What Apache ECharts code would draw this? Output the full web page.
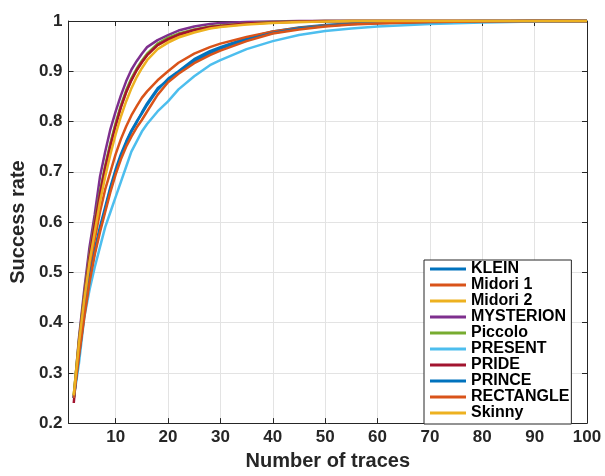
<!DOCTYPE html>
<html><head><meta charset="utf-8">
<script src="https://cdn.jsdelivr.net/npm/echarts@6/dist/echarts.min.js"></script>
<style>html,body{margin:0;padding:0;background:#fff}#c{width:605px;height:476px}</style>
</head><body><div id="c"></div>
<script>
const traces = [2,3,4,5,6,7,8,9,10,11,12,13,14,15,16,18,20,22,25,28,30,35,40,45,50,55,60,70,80,90,100];
const xTicks = [10,20,30,40,50,60,70,80,90,100];
const names = ['KLEIN','Midori 1','Midori 2','MYSTERION','Piccolo','PRESENT','PRIDE','PRINCE','RECTANGLE','Skinny'];
const klein     = [0.25,0.34,0.42,0.49,0.545,0.59,0.63,0.67,0.705,0.735,0.76,0.782,0.80,0.816,0.833,0.863,0.885,0.90,0.924,0.94,0.948,0.966,0.979,0.987,0.992,0.995,0.997,0.999,1,1,1];
const midori1   = [0.25,0.35,0.43,0.505,0.565,0.62,0.665,0.70,0.735,0.765,0.79,0.812,0.83,0.847,0.86,0.882,0.9,0.917,0.935,0.948,0.955,0.968,0.979,0.986,0.991,0.994,0.996,0.998,0.999,1,1];
const midori2   = [0.255,0.365,0.455,0.535,0.595,0.66,0.71,0.755,0.795,0.83,0.858,0.883,0.902,0.918,0.932,0.952,0.962,0.97,0.979,0.986,0.989,0.994,0.997,0.998,0.999,1,1,1,1,1,1];
const mysterion = [0.25,0.37,0.465,0.55,0.615,0.69,0.74,0.785,0.82,0.852,0.88,0.903,0.92,0.935,0.948,0.962,0.972,0.981,0.989,0.994,0.996,0.998,0.999,1,1,1,1,1,1,1,1];
const piccolo   = [0.255,0.365,0.455,0.535,0.6,0.66,0.712,0.757,0.797,0.832,0.862,0.886,0.905,0.921,0.935,0.955,0.967,0.975,0.983,0.989,0.991,0.995,0.998,0.999,1,1,1,1,1,1,1];
const present   = [0.25,0.32,0.41,0.465,0.51,0.55,0.59,0.62,0.65,0.68,0.71,0.74,0.76,0.78,0.795,0.82,0.84,0.864,0.89,0.912,0.922,0.944,0.96,0.972,0.98,0.985,0.989,0.994,0.997,0.999,1];
const pride     = [0.24,0.36,0.45,0.53,0.595,0.655,0.708,0.752,0.792,0.828,0.858,0.882,0.902,0.918,0.932,0.952,0.964,0.973,0.982,0.988,0.99,0.995,0.997,0.999,1,1,1,1,1,1,1];
const prince    = [0.25,0.335,0.415,0.485,0.54,0.585,0.625,0.665,0.70,0.73,0.757,0.78,0.798,0.818,0.836,0.866,0.882,0.897,0.92,0.936,0.945,0.963,0.976,0.985,0.99,0.994,0.996,0.998,0.999,1,1];
const rectangle = [0.25,0.335,0.41,0.48,0.535,0.58,0.62,0.66,0.695,0.725,0.75,0.77,0.788,0.803,0.82,0.853,0.878,0.895,0.916,0.932,0.941,0.96,0.975,0.983,0.989,0.993,0.995,0.998,0.999,1,1];
const skinny    = [0.255,0.36,0.445,0.52,0.58,0.64,0.69,0.735,0.775,0.81,0.84,0.866,0.888,0.906,0.922,0.944,0.957,0.967,0.977,0.985,0.988,0.993,0.996,0.998,0.999,1,1,1,1,1,1];

const allValues = [klein,midori1,midori2,mysterion,piccolo,present,pride,prince,rectangle,skinny];
const colors = ['#0072BD','#D95319','#EDB120','#7E2F8E','#77AC30','#4DBEEE','#A2142F','#0072BD','#D95319','#EDB120'];

const FONT = '"Liberation Sans", Arial, Helvetica, sans-serif';
const AX = '#262626';
const GRID = '#e3e3e3';

const chart = echarts.init(document.getElementById('c'), null, {renderer:'canvas'});
const series = names.map((n,i)=>({
  name:n, type:'line', symbol:'none', showSymbol:false, clip:false,
  data: traces.map((x,j)=>[x, allValues[i][j]]),
  lineStyle:{color:colors[i], width:2.5}, itemStyle:{color:colors[i]},
  emphasis:{disabled:true}, animation:false
}));

chart.setOption({
  animation:false,
  backgroundColor:'#fff',
  grid:{left:66, right:18, top:21, bottom:42, containLabel:false},
  xAxis:[{
    type:'value', min:1, max:100, position:'bottom',
    name:'Number of traces', nameLocation:'middle', nameGap:25,
    nameTextStyle:{fontFamily:FONT, fontWeight:'bold', fontSize:20, color:AX},
    axisLine:{show:true, lineStyle:{color:AX, width:1}},
    axisTick:{show:true, inside:true, length:5, customValues:xTicks, lineStyle:{color:AX}},
    axisLabel:{customValues:xTicks, margin:6, fontFamily:FONT, fontWeight:'bold', fontSize:17, color:AX},
    splitLine:{show:true, lineStyle:{color:GRID, width:1}}
  },{
    type:'value', min:1, max:100, position:'top',
    axisLine:{show:true, lineStyle:{color:AX, width:1}},
    axisTick:{show:true, inside:true, length:5, customValues:xTicks, lineStyle:{color:AX}},
    axisLabel:{show:false}, splitLine:{show:false}
  }],
  yAxis:[{
    type:'value', min:0.2, max:1, interval:0.1, position:'left',
    name:'Success rate', nameLocation:'middle', nameGap:36,
    nameTextStyle:{fontFamily:FONT, fontWeight:'bold', fontSize:20, color:AX},
    axisLine:{show:true, lineStyle:{color:AX, width:1}},
    axisTick:{show:true, inside:true, length:5, lineStyle:{color:AX}},
    axisLabel:{margin:6, fontFamily:FONT, fontWeight:'bold', fontSize:17, color:AX,
      formatter:v=> (Math.abs(v-1)<1e-9 ? '1' : v.toFixed(1))},
    splitLine:{show:true, lineStyle:{color:GRID, width:1}}
  },{
    type:'value', min:0.2, max:1, interval:0.1, position:'right',
    axisLine:{show:true, lineStyle:{color:AX, width:1}},
    axisTick:{show:true, inside:true, length:5, lineStyle:{color:AX}},
    axisLabel:{show:false}, splitLine:{show:false}
  }],
  legend:{
    orient:'vertical', left:424, top:260, width:151,
    padding:[1,2,3,6], itemGap:0, itemWidth:36, itemHeight:3, icon:'rect',
    backgroundColor:'#fff', borderColor:AX, borderWidth:1,
    textStyle:{fontFamily:FONT, fontWeight:'bold', fontSize:16, color:'#000', lineHeight:15.8},
    data:names.map(n=>({name:n})),
    selectedMode:false
  },
  series: series
});
</script>
</body></html>
